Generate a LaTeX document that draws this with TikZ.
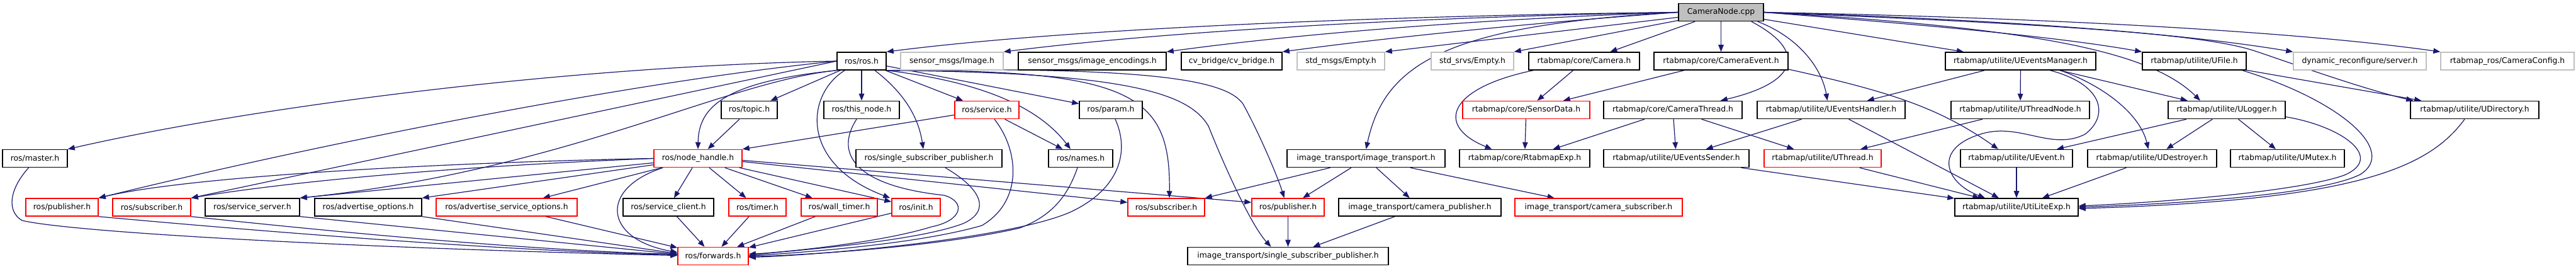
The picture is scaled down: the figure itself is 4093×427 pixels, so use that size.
\documentclass[tikz,border=0pt]{standalone}
\usepackage{fontspec}
\setmainfont{DejaVu Sans}
\usetikzlibrary{arrows.meta}
\pgfdeclarelayer{bg}
\pgfsetlayers{bg,main}
\definecolor{edgec}{HTML}{191970}
\definecolor{grayb}{HTML}{BFBFBF}
\newcommand\myfs{\fontsize{12.4}{14}\selectfont}
\newcommand\mynd[6]{\node[#2, minimum width={(#4-#3)*1pt}] (#1) at ({(#3+#4)/2},#5) {#6};}
\tikzset{
  nd/.style={draw=black, line width=1.5pt, minimum height=28pt, inner sep=0pt, font=\myfs, text=black, fill=white},
  rednd/.style={nd, draw=red},
  graynd/.style={nd, draw=grayb},
  rootnd/.style={nd, fill=grayb},
  e/.style={draw=edgec, line width=1.2pt, -{Triangle[length=11pt,width=8.5pt]}},
}
\begin{document}
\begin{tikzpicture}[x=1pt,y=-1pt]
\begin{pgfonlayer}{bg}
\fill[white] (0,0) rectangle (4093,427);
\end{pgfonlayer}
\useasboundingbox (0,0) rectangle (4093,427);
% row 0
\mynd{cam}{rootnd}{2667}{2802}{19.5}{CameraNode.cpp}
% row 1
\mynd{ros}{nd}{1330}{1408}{97}{ros/ros.h}
\mynd{smimg}{graynd}{1431}{1594}{97}{sensor\_msgs/Image.h}
\mynd{smenc}{nd}{1618}{1853}{97}{sensor\_msgs/image\_encodings.h}
\mynd{cvb}{nd}{1877}{2037}{97}{cv\_bridge/cv\_bridge.h}
\mynd{stdmsg}{graynd}{2061}{2200}{97}{std\_msgs/Empty.h}
\mynd{stdsrv}{graynd}{2274}{2405}{97}{std\_srvs/Empty.h}
\mynd{camh}{nd}{2429}{2605}{97}{rtabmap/core/Camera.h}
\mynd{camev}{nd}{2628}{2841}{97}{rtabmap/core/CameraEvent.h}
\mynd{uevm}{nd}{3091}{3330}{97}{rtabmap/utilite/UEventsManager.h}
\mynd{ufile}{nd}{3404}{3569}{97}{rtabmap/utilite/UFile.h}
\mynd{dyn}{graynd}{3644}{3855}{97}{dynamic\_reconfigure/server.h}
\mynd{cfg}{graynd}{3878}{4090}{97}{rtabmap\_ros/CameraConfig.h}
% row 2
\mynd{topic}{nd}{1146}{1235}{174.5}{ros/topic.h}
\mynd{thisnode}{nd}{1309}{1429}{174.5}{ros/this\_node.h}
\mynd{service}{rednd}{1517}{1619}{174.5}{ros/service.h}
\mynd{param}{nd}{1715}{1815}{174.5}{ros/param.h}
\mynd{sensor}{rednd}{2324}{2526}{174.5}{rtabmap/core/SensorData.h}
\mynd{camthr}{nd}{2548}{2768}{174.5}{rtabmap/core/CameraThread.h}
\mynd{uevh}{nd}{2792}{3027}{174.5}{rtabmap/utilite/UEventsHandler.h}
\mynd{uthrn}{nd}{3100}{3320}{174.5}{rtabmap/utilite/UThreadNode.h}
\mynd{ulog}{nd}{3445}{3631}{174.5}{rtabmap/utilite/ULogger.h}
\mynd{udir}{nd}{3830}{4034}{174.5}{rtabmap/utilite/UDirectory.h}
% row 3
\mynd{master}{nd}{4}{107}{251.5}{ros/master.h}
\mynd{nh}{rednd}{1039}{1179}{251.5}{ros/node\_handle.h}
\mynd{ssp}{nd}{1360}{1592}{251.5}{ros/single\_subscriber\_publisher.h}
\mynd{names}{nd}{1666}{1768}{251.5}{ros/names.h}
\mynd{it}{nd}{2045}{2296}{251.5}{image\_transport/image\_transport.h}
\mynd{rexp}{nd}{2319}{2526}{251.5}{rtabmap/core/RtabmapExp.h}
\mynd{uesend}{nd}{2548}{2779}{251.5}{rtabmap/utilite/UEventsSender.h}
\mynd{uthr}{rednd}{2803}{2989}{251.5}{rtabmap/utilite/UThread.h}
\mynd{uev}{nd}{3115}{3293}{251.5}{rtabmap/utilite/UEvent.h}
\mynd{udes}{nd}{3317}{3522}{251.5}{rtabmap/utilite/UDestroyer.h}
\mynd{umut}{nd}{3544}{3725}{251.5}{rtabmap/utilite/UMutex.h}
% row 4
\mynd{pubL}{rednd}{41}{156}{329}{ros/publisher.h}
\mynd{subL}{rednd}{179}{303}{329}{ros/subscriber.h}
\mynd{ssrv}{nd}{326}{476}{329}{ros/service\_server.h}
\mynd{advo}{nd}{500}{670}{329}{ros/advertise\_options.h}
\mynd{advso}{rednd}{693}{917}{329}{ros/advertise\_service\_options.h}
\mynd{sclient}{nd}{990}{1134}{329}{ros/service\_client.h}
\mynd{timer}{rednd}{1158}{1249}{329}{ros/timer.h}
\mynd{wtimer}{rednd}{1273}{1394}{329}{ros/wall\_timer.h}
\mynd{init}{rednd}{1417}{1494}{329}{ros/init.h}
\mynd{subR}{rednd}{1792}{1914}{329}{ros/subscriber.h}
\mynd{pubR}{rednd}{1989}{2104}{329}{ros/publisher.h}
\mynd{campub}{nd}{2127}{2385}{329}{image\_transport/camera\_publisher.h}
\mynd{camsub}{rednd}{2407}{2673}{329}{image\_transport/camera\_subscriber.h}
\mynd{uexp}{nd}{3106}{3302}{329}{rtabmap/utilite/UtiLiteExp.h}
% row 5
\mynd{fwd}{rednd}{1077}{1189}{406.5}{ros/forwards.h}
\mynd{itssp}{nd}{1887}{2206}{406.5}{image\_transport/single\_subscriber\_publisher.h}

\begin{pgfonlayer}{bg}
% ---- edges from CameraNode.cpp
\draw[e] (cam.west) .. controls (2200,25) and (1700,45) .. (ros.north east);
\draw[e] (cam.west) .. controls (2250,27) and (1850,50) .. (smimg.north east);
\draw[e] (cam.west) .. controls (2350,30) and (2050,55) .. (smenc.north east);
\draw[e] (cam.west) .. controls (2450,35) and (2200,60) .. (cvb.north east);
\draw[e] (cam) -- (stdmsg.north east);
\draw[e] (cam) -- (stdsrv.north east);
\draw[e] (cam) -- (camh);
\draw[e] (cam) -- (camev);
\draw[e] (cam.west) .. controls (2300,40) and (2200,100) .. (it.north);
\draw[e] ([xshift=-20pt]cam.south east) .. controls (2870,80) and (2860,130) .. ([xshift=-35pt]camthr.north east);
\draw[e] ([xshift=-10pt]cam.south east) .. controls (2860,60) and (2895,110) .. ([xshift=-6pt]uevh.north);
\draw[e] (cam) -- (uevm);
\draw[e] (cam.east) .. controls (3000,35) and (3250,55) .. (ufile.north west);
\draw[e] (cam.east) .. controls (3150,30) and (3450,50) .. (dyn.north west);
\draw[e] (cam.east) .. controls (3250,28) and (3650,50) .. (cfg.north west);
\draw[e] (cam.east) .. controls (3250,45) and (3420,85) .. ([xshift=-42pt]ulog.north);
\draw[e] (cam.east) .. controls (3300,40) and (3500,55) .. (3580,80) .. controls (3640,100) and (3750,140) .. ([xshift=5pt]udir.north west);

% ---- edges from ros/ros.h
\draw[e] (ros.west) .. controls (900,105) and (400,170) .. (master.north east);
\draw[e] (ros.west) .. controls (1000,130) and (500,230) .. (pubL.north east);
\draw[e] (ros.west) -- (subL.north east);
\draw[e] (ros.south west) .. controls (1150,130) and (900,270) .. (ssrv.north east);
\draw[e] (ros.south west) .. controls (1150,130) and (1110,170) .. (nh.north);
\draw[e] (ros) -- (topic);
\draw[e] (ros) -- (thisnode);
\draw[e] ([xshift=13pt]ros.south west) .. controls (1280,150) and (1270,260) .. ([xshift=-2pt]init.north west);
\draw[e] ([xshift=21pt]ros.south) .. controls (1440,150) and (1460,190) .. ([xshift=-9pt]ssp.north);
\draw[e] (ros) -- (service);
\draw[e] (ros) -- (param);
\draw[e] (ros.south east) .. controls (1560,130) and (1650,170) .. ([xshift=-16pt]names.north);
\draw[e] (ros.south east) .. controls (1800,110) and (1860,150) .. ([xshift=5pt]subR.north);
\draw[e] (ros.south east) .. controls (1800,115) and (1890,150) .. (1920,200) .. controls (1950,275) and (1990,360) .. ([xshift=-27pt]itssp.north);
\draw[e] (ros.south east) .. controls (1850,105) and (1950,130) .. (1975,165) .. controls (2000,210) and (2030,280) .. ([xshift=-6pt]pubR.north);

% ---- edges from ros/node_handle.h
\draw[e] (nh.west) .. controls (700,258) and (300,280) .. (pubL.north east);
\draw[e] (nh.west) .. controls (700,265) and (450,290) .. (subL.north east);
\draw[e] (nh) -- (ssrv.north east);
\draw[e] (nh) -- (advo.north east);
\draw[e] (nh) -- (advso);
\draw[e] (nh) -- (sclient);
\draw[e] (nh) -- (timer);
\draw[e] (nh) -- (wtimer);
\draw[e] (nh) -- (init);
\draw[e] ([yshift=-5pt]nh.east) -- ([yshift=-7pt]subR.north west);
\draw[e] ([yshift=-3pt]nh.east) -- ([yshift=-7pt]pubR.north west);
\draw[e] ([xshift=15pt]nh.south west) .. controls (950,300) and (960,380) .. ([yshift=6pt]fwd.west);

% ---- other ros edges
\draw[e] (topic) -- (nh);
\draw[e] ([yshift=-8pt]service.west) -- (nh.north east);
\draw[e] (service) -- (names);

% ---- edges into ros/forwards.h
\draw[e] ([xshift=-10pt]master.south) .. controls (15,300) and (10,335) .. (35,350) .. controls (120,370) and (600,395) .. ([yshift=1pt]fwd.west);
\draw[e] (pubL.south east) .. controls (500,375) and (850,400) .. ([yshift=2pt]fwd.west);
\draw[e] (subL.south east) .. controls (550,370) and (850,398) .. ([yshift=3pt]fwd.west);
\draw[e] (ssrv.south east) -- ([yshift=3pt]fwd.west);
\draw[e] (advo.south east) -- ([yshift=4pt]fwd.west);
\draw[e] (advso) -- (fwd);
\draw[e] (sclient) -- (fwd);
\draw[e] (timer) -- (fwd);
\draw[e] (wtimer) -- (fwd);
\draw[e] (init) -- (fwd);
\draw[e] ([xshift=-8pt]thisnode.south) .. controls (1325,245) and (1360,295) .. (1500,310) .. controls (1535,320) and (1530,350) .. (1480,360) .. controls (1400,385) and (1250,400) .. ([yshift=3pt]fwd.east);
\draw[e] ([xshift=26pt]ssp.south) .. controls (1560,300) and (1575,335) .. (1530,355) .. controls (1450,385) and (1250,398) .. ([yshift=1pt]fwd.east);
\draw[e] ([xshift=12pt]service.south) .. controls (1620,240) and (1625,320) .. (1560,358) .. controls (1450,390) and (1250,402) .. (fwd.east);
\draw[e] ([xshift=-5pt]names.south) .. controls (1700,300) and (1680,340) .. (1620,362) .. controls (1500,390) and (1300,404) .. ([yshift=-1pt]fwd.east);
\draw[e] ([xshift=7pt]param.south) .. controls (1795,240) and (1780,300) .. (1700,337) .. controls (1600,380) and (1300,405) .. ([yshift=-2pt]fwd.east);

% ---- image_transport
\draw[e] ([xshift=-57pt]it.south) -- (subR.north east);
\draw[e] (it) -- (pubR);
\draw[e] (it) -- (campub);
\draw[e] (it) -- (camsub);
\draw[e] (pubR) -- (itssp);
\draw[e] (campub) -- (itssp);

% ---- rtabmap core
\draw[e] (camh) -- (sensor);
\draw[e] ([xshift=8pt]camh.south west) .. controls (2300,140) and (2280,200) .. ([xshift=-52pt]rexp.north);
\draw[e] (camev) -- (sensor);
\draw[e] ([yshift=-13pt]camev.east) .. controls (3000,145) and (3080,170) .. ([xshift=-29pt]uev.north);
\draw[e] (sensor) -- (rexp);
\draw[e] (camthr) -- (rexp);
\draw[e] (camthr) -- (uesend);
\draw[e] (camthr) -- (uthr);

% ---- utilite
\draw[e] (uevh) -- (uesend);
\draw[e] (uevh) -- (uexp);
\draw[e] (uevm) -- (uevh);
\draw[e] (uevm) -- (uthrn);
\draw[e] (uevm) -- (ulog);
\draw[e] ([xshift=47pt]uevm.south) .. controls (3345,135) and (3350,185) .. (3313,213) .. controls (3260,240) and (3210,195) .. (3150,212) .. controls (3070,235) and (3090,290) .. ([xshift=-50pt]uexp.north);
\draw[e] ([xshift=63pt]uevm.south) .. controls (3340,135) and (3400,180) .. ([xshift=-6pt]udes.north);
\draw[e] (uthrn) -- (uthr);
\draw[e] (uthr) -- (uexp);
\draw[e] (uesend) -- (uexp);
\draw[e] (uev) -- (uexp);
\draw[e] (udes) -- (uexp);
\draw[e] (ulog) -- (uev);
\draw[e] (ulog) -- (udes);
\draw[e] (ulog) -- (umut);
\draw[e] ([yshift=-11pt]ulog.east) .. controls (3720,200) and (3790,250) .. (3725,278) .. controls (3650,305) and (3420,322) .. ([yshift=2pt]uexp.east);
\draw[e] (ufile) -- (udir);
\draw[e] ([xshift=-7pt]ufile.south east) .. controls (3720,160) and (3810,240) .. (3750,277) .. controls (3680,312) and (3420,325) .. (uexp.east);
\draw[e] ([xshift=-16pt]udir.south) .. controls (3860,265) and (3750,318) .. ([yshift=-2pt]uexp.east);
\end{pgfonlayer}
\end{tikzpicture}
\end{document}
